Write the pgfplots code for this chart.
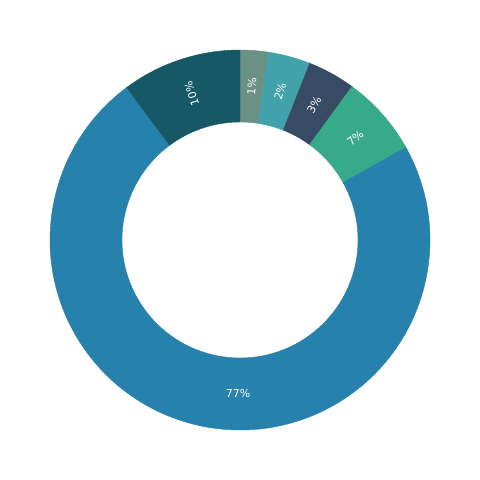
\documentclass[border=0pt]{standalone}
\usepackage{fontspec}
\setmainfont{DejaVu Sans}
\usepackage{pgfplots}
\usepackage{pgfplotstable}
\pgfplotsset{compat=1.18}
\definecolor{cA}{HTML}{6B9184}
\definecolor{cB}{HTML}{42A2AC}
\definecolor{cC}{HTML}{384B65}
\definecolor{cD}{HTML}{37AA8A}
\definecolor{cE}{HTML}{2781AD}
\definecolor{cF}{HTML}{175867}

% share = visual share of the ring (percent), label = printed value
\pgfplotstableread{
share label color rot lang
2.42  1  cA 1 85.65
3.56  2  cB 1 74.9
4.06  3  cC 1 61.2
6.86  7  cD 1 41.5
72.93 77 cE 0 -90.7
10.17 10 cF 1 108.3
}\slices

\begin{document}
\begin{tikzpicture}
\begin{axis}[
    hide axis,
    scale only axis,
    width=480pt, height=480pt,
    xmin=-240, xmax=240, ymin=-240, ymax=240,
    clip=false,
]
\addplot[draw=none] coordinates {(0,0)};
\path (rel axis cs:0,0) rectangle (rel axis cs:1,1);

\gdef\acc{90}
\pgfplotstablegetrowsof{\slices}
\pgfmathtruncatemacro\nlast{\pgfplotsretval-1}
\foreach \i in {0,...,\nlast}{%
    \pgfplotstablegetelem{\i}{share}\of\slices \let\s\pgfplotsretval
    \pgfplotstablegetelem{\i}{label}\of\slices \let\l\pgfplotsretval
    \pgfplotstablegetelem{\i}{color}\of\slices \let\c\pgfplotsretval
    \pgfplotstablegetelem{\i}{rot}\of\slices \let\r\pgfplotsretval
    \pgfplotstablegetelem{\i}{lang}\of\slices \let\la\pgfplotsretval
    \pgfmathsetmacro\a{\acc}
    \pgfmathsetmacro\b{\acc-3.6*\s}
    \pgfmathsetmacro\ox{190*cos(\a)}\pgfmathsetmacro\oy{190*sin(\a)}
    \pgfmathsetmacro\ix{118*cos(\b)}\pgfmathsetmacro\iy{118*sin(\b)}
    \pgfmathsetmacro\lx{154*cos(\la)}\pgfmathsetmacro\ly{154*sin(\la)}
    \pgfmathsetmacro\rr{\r*\la}
    \edef\temp{%
      \noexpand\filldraw[\c, line width=0.4pt] (axis cs:\ox,\oy) arc[start angle=\a, end angle=\b, radius=190]
        -- (axis cs:\ix,\iy) arc[start angle=\b, end angle=\a, radius=118] -- cycle;
    }%
    \temp
    \xdef\acc{\b}%
}
% labels on top of all slices
\foreach \i in {0,...,\nlast}{%
    \pgfplotstablegetelem{\i}{label}\of\slices \let\l\pgfplotsretval
    \pgfplotstablegetelem{\i}{rot}\of\slices \let\r\pgfplotsretval
    \pgfplotstablegetelem{\i}{lang}\of\slices \let\la\pgfplotsretval
    \pgfmathsetmacro\lx{154*cos(\la)}\pgfmathsetmacro\ly{154*sin(\la)}
    \pgfmathsetmacro\rr{\r*\la}
    \edef\temp{%
      \noexpand\node[rotate=\rr, text=white, inner sep=0pt, font=\noexpand\fontsize{11}{13}\noexpand\selectfont]
        at (axis cs:\lx,\ly) {\l\noexpand\%};
    }%
    \temp
}
\end{axis}
\end{tikzpicture}
\end{document}
